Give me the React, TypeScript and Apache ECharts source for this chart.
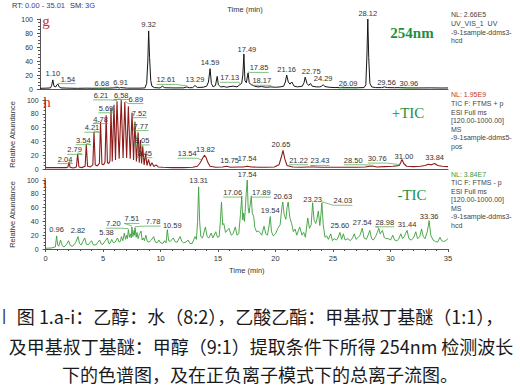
import { useEffect, useRef } from "react";
import * as echarts from "echarts";

// ---------- data (retention time in min, relative abundance in %) ----------
const traceG: [number, number][] = [
  [0, 1], [0.5, 1.2], [0.9, 1.5], [1.0, 5], [1.10, 13], [1.2, 4], [1.35, 3], [1.45, 6], [1.54, 7], [1.65, 3],
  [1.8, 1.5], [2.5, 1.2], [3.2, 1], [4, 1.2], [5, 1], [6, 1.3], [6.68, 2], [6.8, 1.4], [6.91, 2], [7.5, 1.2],
  [8.5, 1.2], [9.0, 1.5], [9.15, 8], [9.25, 40], [9.32, 83], [9.4, 45], [9.5, 12], [9.6, 4], [9.8, 2], [10.3, 1.5],
  [10.5, 4], [10.7, 1.8], [11.5, 1.5], [12.3, 1.6], [12.61, 3], [12.8, 1.8], [13.1, 2], [13.29, 5], [13.5, 2.2],
  [14.0, 2.5], [14.3, 4], [14.45, 10], [14.59, 29], [14.7, 8], [14.85, 3], [15.05, 5], [15.2, 18], [15.3, 6],
  [15.5, 3], [15.8, 3.5], [16.0, 2.5], [16.3, 3.5], [16.6, 4], [16.9, 3], [17.13, 6], [17.3, 8], [17.4, 20],
  [17.49, 50], [17.58, 12], [17.7, 9], [17.85, 23], [17.95, 9], [18.05, 7], [18.17, 6], [18.4, 4], [18.7, 3],
  [19.0, 3.5], [19.4, 2.5], [19.8, 3], [20.2, 2.5], [20.6, 3], [20.9, 4], [21.05, 10], [21.16, 20], [21.3, 10],
  [21.45, 7], [21.6, 10], [21.8, 4], [22.1, 3], [22.5, 4], [22.65, 9], [22.75, 17], [22.9, 8], [23.05, 5],
  [23.2, 8], [23.35, 4], [23.7, 3], [24.0, 3], [24.15, 4], [24.29, 6], [24.45, 3.5], [24.8, 2.5], [25.3, 2],
  [25.7, 2.2], [26.09, 2], [26.6, 2], [27.2, 1.8], [27.8, 2], [27.95, 6], [28.05, 50], [28.12, 100], [28.2, 45],
  [28.3, 8], [28.45, 3], [28.8, 2], [29.3, 2], [29.56, 3], [29.8, 2], [30.4, 1.8], [30.96, 2], [31.5, 1.6],
  [32.5, 1.5], [33.5, 1.6], [34.5, 1.4], [35, 1.5],
];

const traceH: [number, number][] = [
  [0, 2], [1, 2], [1.8, 2], [1.95, 3], [2.04, 10], [2.13, 2.5], [2.4, 1.5], [2.68, 3], [2.79, 22], [2.9, 3],
  [3.15, 2], [3.44, 4], [3.54, 36], [3.65, 4], [3.9, 3], [4.11, 6], [4.21, 54], [4.32, 6], [4.5, 4.5], [4.68, 8],
  [4.78, 68], [4.9, 7], [5.05, 6], [5.17, 10], [5.27, 78], [5.38, 9], [5.5, 8], [5.6, 12], [5.69, 88], [5.8, 11],
  [5.95, 93], [6.08, 13], [6.21, 98], [6.4, 15], [6.58, 100], [6.74, 16], [6.89, 97], [7.05, 16], [7.2, 91],
  [7.36, 15], [7.52, 81], [7.65, 13], [7.77, 68], [7.9, 11], [8.05, 53], [8.15, 9], [8.25, 42], [8.35, 8],
  [8.45, 33], [8.57, 6], [8.7, 22], [8.82, 5], [8.95, 14], [9.1, 4], [9.25, 9], [9.42, 3.5], [9.6, 6], [9.8, 3],
  [10.2, 2.5], [11, 2], [12, 2], [12.8, 2.5], [13.2, 4], [13.4, 8], [13.54, 12], [13.7, 17], [13.82, 20],
  [13.95, 17], [14.1, 10], [14.3, 4], [14.8, 2.5], [15.4, 3], [15.75, 4], [16.1, 2.5], [16.8, 3], [17.2, 3],
  [17.54, 4], [17.9, 3], [18.5, 2.5], [19.2, 2.5], [19.9, 3], [20.3, 6], [20.5, 17], [20.65, 27], [20.8, 15],
  [21.0, 5], [21.22, 4], [21.5, 3], [22.2, 2.5], [22.9, 3], [23.43, 3], [24, 2.5], [25, 2.5], [26, 2.5],
  [27, 2.5], [27.8, 3], [28.2, 4], [28.5, 4], [28.8, 3], [29.5, 3.5], [30.2, 4], [30.5, 4.5], [30.76, 5],
  [30.88, 9], [31.0, 14], [31.15, 8], [31.4, 4], [32, 3.5], [32.6, 4], [33.0, 5], [33.3, 7], [33.55, 6],
  [33.84, 8], [34.1, 5], [34.5, 4], [35, 3.5],
];

const traceI: [number, number][] = [
  [0, 1], [0.5, 1.5], [0.85, 3], [0.96, 19], [1.05, 6], [1.15, 4], [1.3, 13], [1.45, 5], [1.6, 3], [1.8, 6],
  [2.0, 12], [2.15, 5], [2.35, 4], [2.6, 9], [2.82, 18], [2.95, 8], [3.1, 6], [3.25, 11], [3.4, 16], [3.55, 7],
  [3.7, 6], [3.85, 9], [4.0, 12], [4.15, 6], [4.4, 6], [4.55, 10], [4.7, 13], [4.85, 7], [5.0, 7], [5.2, 12],
  [5.38, 16], [5.5, 8], [5.6, 8], [5.75, 14], [5.9, 9], [6.05, 10], [6.25, 16], [6.4, 10], [6.5, 11], [6.6, 18],
  [6.72, 12], [6.85, 23], [6.95, 14], [7.05, 20], [7.12, 15], [7.2, 28], [7.3, 17], [7.4, 22], [7.45, 16],
  [7.51, 32], [7.6, 18], [7.7, 27], [7.74, 20], [7.78, 31], [7.88, 17], [7.95, 24], [8.05, 15], [8.15, 21],
  [8.3, 26], [8.4, 13], [8.5, 16], [8.6, 12], [8.72, 20], [8.85, 11], [9.0, 10], [9.2, 13], [9.4, 18], [9.55, 10],
  [9.7, 9], [9.85, 13], [10.0, 9], [10.2, 8], [10.35, 12], [10.48, 9], [10.59, 28], [10.7, 12], [10.85, 11],
  [11.1, 16], [11.3, 10], [11.45, 10], [11.7, 18], [11.85, 11], [12.0, 9], [12.2, 10], [12.4, 13], [12.55, 8],
  [12.75, 8], [13.0, 18], [13.12, 14], [13.22, 40], [13.31, 90], [13.4, 40], [13.5, 18], [13.65, 16], [13.9, 32],
  [14.05, 18], [14.2, 16], [14.4, 23], [14.55, 16], [14.8, 25], [14.95, 17], [15.1, 18], [15.2, 40], [15.3, 68],
  [15.4, 35], [15.5, 37], [15.65, 24], [15.95, 30], [16.15, 20], [16.3, 22], [16.5, 32], [16.65, 20], [16.8, 22],
  [16.95, 50], [17.06, 76], [17.15, 42], [17.22, 52], [17.3, 40], [17.45, 80], [17.54, 100], [17.62, 60],
  [17.7, 52], [17.8, 65], [17.89, 76], [17.98, 52], [18.1, 47], [18.2, 31], [18.35, 25], [18.5, 26], [18.65, 24],
  [18.8, 20], [19.0, 33], [19.15, 22], [19.3, 20], [19.45, 35], [19.54, 47], [19.65, 25], [19.8, 19], [20.0, 22],
  [20.2, 30], [20.4, 35], [20.55, 60], [20.63, 68], [20.75, 50], [20.9, 43], [21.0, 60], [21.1, 68], [21.25, 45],
  [21.4, 37], [21.55, 25], [21.7, 29], [21.85, 20], [22.1, 32], [22.3, 20], [22.45, 24], [22.6, 17], [22.8, 45],
  [22.95, 30], [23.1, 35], [23.23, 67], [23.35, 42], [23.5, 37], [23.62, 45], [23.72, 55], [23.85, 34],
  [23.95, 50], [24.03, 67], [24.15, 35], [24.3, 17], [24.45, 19], [24.6, 14], [24.8, 22], [24.95, 12], [25.1, 15],
  [25.3, 13], [25.45, 17], [25.6, 24], [25.75, 14], [25.9, 22], [26.05, 13], [26.3, 15], [26.5, 12], [26.7, 16],
  [26.85, 22], [27.0, 14], [27.2, 17], [27.35, 20], [27.54, 30], [27.7, 16], [27.9, 14], [28.05, 20], [28.2, 27],
  [28.35, 15], [28.5, 13], [28.7, 18], [28.85, 24], [28.98, 30], [29.1, 22], [29.3, 27], [29.45, 17], [29.6, 15],
  [29.8, 15], [30.0, 13], [30.2, 20], [30.35, 13], [30.55, 12], [30.7, 14], [30.9, 22], [31.05, 15], [31.2, 18],
  [31.3, 22], [31.44, 27], [31.6, 15], [31.8, 13], [32.0, 16], [32.2, 25], [32.35, 15], [32.55, 18], [32.7, 29],
  [32.85, 18], [33.0, 15], [33.2, 25], [33.36, 41], [33.5, 20], [33.7, 13], [33.9, 11], [34.1, 10], [34.3, 17],
  [34.45, 12], [34.6, 11], [34.8, 12], [35, 15],
];

// labelled peaks: [retention time, apex height]
const peaksG: [number, number][] = [
  [1.10, 13], [1.54, 7], [6.68, 2], [6.91, 2], [9.32, 83], [12.61, 3], [13.29, 5], [14.59, 29], [17.13, 6],
  [17.49, 50], [17.85, 23], [18.17, 6], [21.16, 20], [22.75, 17], [24.29, 6], [26.09, 2], [28.12, 100],
  [29.56, 3], [30.96, 2],
];
const peaksH: [number, number][] = [
  [2.04, 10], [2.79, 22], [3.54, 36], [4.21, 54], [4.78, 68], [5.69, 88], [6.21, 98], [6.58, 100], [6.89, 97],
  [7.52, 81], [7.77, 68], [8.05, 53], [8.45, 33], [13.54, 12], [13.82, 20], [15.75, 4], [17.54, 4], [20.65, 27],
  [21.22, 4], [23.43, 3], [28.50, 4], [30.76, 5], [31.00, 14], [33.84, 8],
];
const peaksI: [number, number][] = [
  [0.96, 19], [2.82, 18], [5.38, 16], [7.20, 28], [7.51, 32], [7.78, 31], [10.59, 28], [13.31, 90], [17.06, 76],
  [17.54, 100], [17.89, 76], [19.54, 47], [20.63, 68], [23.23, 67], [24.03, 67], [25.60, 24], [27.54, 30],
  [28.98, 30], [31.44, 27], [33.36, 41],
];

// ---------- layout (label offsets in px: dx, dy, leader line 0/1) ----------
const layoutG: [number, number, number][] = [
  [0, 0, 0], [10, 1, 1], [-16, 2, 1], [0, 1, 0], [0, 0, 0], [-21, -1, 1], [0, 0, 0], [0, 0, 0], [-10, -1, 1],
  [3, 1, 0], [11, 1, 1], [10, 2, 1], [0, 0, 0], [6, 0, 0], [0, 0, 0], [4, 2, 1], [0, 0, 0], [2, 2, 0], [8, 2, 1],
];
const layoutH: [number, number, number][] = [
  [-4, 3, 1], [-3, 2, 1], [-3, 2, 1], [-2, 2, 1], [0, 3, 1], [-5, 6, 1], [-16, 0, 1], [0, 1, 1], [11, 3, 1],
  [7, 6, 1], [6, 10, 1], [4, 14, 1], [2, 13, 1], [-14, -1, 1], [1, 0, 0], [3, 0, 0], [0, -2, 0], [-2, 0, 0],
  [9, 0, 1], [5, 0, 1], [-20, 0, 1], [-22, -1, 1], [2, 3, 0], [0, 0, 0],
];
const layoutI: [number, number, number][] = [
  [0, 0, 0], [0, 0, 0], [-1, 1, 0], [-15, 0, 1], [0, -2, 1], [18, 0, 1], [5, 2, 0], [0, 0, 0], [-9, 2, 1],
  [0, 0, 0], [10, 2, 1], [0, 0, 0], [0, 0, 0], [0, 3, 0], [21, 4, 1], [0, -1, 0], [0, 0, 0], [6, 0, 1],
  [0, 0, 0], [0, 2, 0],
];

const captionLines = [
  "图 1.a-i：乙醇：水（8:2），乙酸乙酯：甲基叔丁基醚（1:1），",
  "及甲基叔丁基醚：甲醇（9:1）提取条件下所得 254nm 检测波长",
  "下的色谱图，及在正负离子模式下的总离子流图。",
];

const SANS = "'Liberation Sans', Arial, sans-serif";
const SERIF = "'Liberation Serif', 'Times New Roman', serif";
const CJK = "'Noto Sans CJK SC', sans-serif";
const LEAD = "#4aa64a";

function peakLabels(idx: number, peaks: [number, number][], layout: [number, number, number][]) {
  return {
    type: "custom",
    xAxisIndex: idx,
    yAxisIndex: idx,
    silent: true,
    z: 5,
    data: peaks,
    renderItem: (params: any, api: any) => {
      const t = api.value(0);
      const v = api.value(1);
      const p = api.coord([t, v]);
      const lay = layout[params.dataIndex] || [0, 0, 0];
      const text = Number(t).toFixed(2);
      const cx = p[0] + lay[0];
      const bottom = p[1] - 2 + lay[1];
      const halfW = text.length * 1.9;
      const children: any[] = [];
      if (lay[2]) {
        const edge = lay[0] < 0 ? cx + halfW : cx - halfW;
        const far = lay[0] < 0 ? cx - halfW : cx + halfW;
        children.push({
          type: "polyline",
          shape: { points: [[p[0], p[1] - 1], [edge, bottom + 0.5], [far, bottom + 0.5]] },
          style: { stroke: LEAD, lineWidth: 0.7, fill: "none" },
        });
      }
      children.push({
        type: "text",
        style: {
          text,
          x: cx,
          y: bottom,
          align: "center",
          verticalAlign: "bottom",
          fontSize: 7.5,
          fontFamily: SANS,
          fill: "#333",
        },
      });
      return { type: "group", children };
    },
  };
}

function txt(text: string, x: number, y: number, o: any = {}) {
  return {
    type: "text",
    x,
    y,
    silent: true,
    style: {
      text,
      fontSize: o.fontSize ?? 7,
      fontFamily: o.fontFamily ?? SANS,
      fontWeight: o.fontWeight ?? "normal",
      fill: o.fill ?? "#444",
      align: o.align ?? "left",
      verticalAlign: "middle",
    },
  };
}

export default function App() {
  const ref = useRef<HTMLDivElement>(null);

  useEffect(() => {
    document.body.style.margin = "0";
    if (!ref.current) return;
    const chart = echarts.init(ref.current, undefined, { renderer: "svg" });

    const grids = [
      { left: 40, top: 19, width: 408, height: 70 },
      { left: 40, top: 100, width: 408, height: 69 },
      { left: 40, top: 180, width: 408, height: 69 },
    ];

    const xAxes = grids.map((_, i) => ({
      type: "value",
      gridIndex: i,
      min: 0,
      max: 35,
      interval: 5,
      axisLine: { show: true, onZero: false, lineStyle: { color: "#555", width: 1 } },
      axisTick: { show: i === 2, length: 3, lineStyle: { color: "#555" } },
      minorTick: { show: i === 2, splitNumber: 5, length: 2, lineStyle: { color: "#555" } },
      axisLabel: { show: i === 2, fontSize: 7.5, fontFamily: SANS, color: "#333", margin: 5 },
      splitLine: { show: false },
      name: i === 2 ? "Time (min)" : "",
      nameLocation: "middle",
      nameGap: 17,
      nameTextStyle: { fontSize: 7.5, fontFamily: SANS, color: "#333" },
    }));

    const yAxes = grids.map((_, i) => ({
      type: "value",
      gridIndex: i,
      min: 0,
      max: 100,
      interval: 20,
      axisLine: { show: true, lineStyle: { color: "#555", width: 1 } },
      axisTick: { show: true, length: 3, lineStyle: { color: "#555" } },
      minorTick: { show: true, splitNumber: 4, length: 2, lineStyle: { color: "#555" } },
      axisLabel: { fontSize: 7, fontFamily: SANS, color: "#333", margin: 7 },
      splitLine: { show: false },
      name: i === 0 ? "" : "Relative Abundance",
      nameLocation: "middle",
      nameRotate: 90,
      nameGap: 21,
      nameTextStyle: { fontSize: 7.5, fontFamily: SANS, color: "#333" },
    }));

    const line = (idx: number, data: [number, number][], color: string, width: number) => ({
      type: "line",
      xAxisIndex: idx,
      yAxisIndex: idx,
      data,
      symbol: "none",
      silent: true,
      lineStyle: { color, width },
      z: 3,
    });

    const capStyle = { fontSize: 18, fontFamily: CJK, fill: "#1a1a1a", align: "center" };

    const graphic: any[] = [
      txt("RT:", 12, 5, { fill: "#333", fontSize: 7.5 }),
      txt("0.00 - 35.01", 25, 5, { fill: "#3b3b9b", fontSize: 7.5 }),
      txt("SM:", 70, 5, { fill: "#333", fontSize: 7.5 }),
      txt("3G", 85, 5, { fill: "#3b3b9b", fontSize: 7.5 }),
      txt("Time (min)", 245, 9, { fill: "#333", fontSize: 7.5, align: "center" }),
      // panel g annotations
      txt("NL: 2.66E5", 451, 14),
      txt("UV_VIS_1  UV", 451, 23),
      txt("-9-1sample-ddms3-", 451, 32),
      txt("hcd", 451, 40),
      // panel h annotations
      txt("NL: 1.95E9", 451, 94, { fill: "#c0392b" }),
      txt("TIC F: FTMS + p", 451, 103),
      txt("ESI Full ms", 451, 112),
      txt("[120.00-1000.00]", 451, 120.5),
      txt("MS", 451, 129),
      txt("-9-1sample-ddms5-", 451, 137.5),
      txt("pos", 451, 146.5),
      // panel i annotations
      txt("NL: 3.84E7", 451, 174, { fill: "#3a9a3a" }),
      txt("TIC F: FTMS - p", 451, 182.5),
      txt("ESI Full ms", 451, 191),
      txt("[120.00-1000.00]", 451, 199.5),
      txt("MS", 451, 208),
      txt("-9-1sample-ddms3-", 451, 216.5),
      txt("hcd", 451, 225),
      // titles
      txt("254nm", 412, 33, { fontSize: 15, fontFamily: SERIF, fontWeight: "bold", fill: "#1f8f3f", align: "center" }),
      txt("+TIC", 408, 113, { fontSize: 15, fontFamily: SERIF, fill: "#1f8f3f", align: "center" }),
      txt("-TIC", 412, 195, { fontSize: 15, fontFamily: SERIF, fill: "#1f8f3f", align: "center" }),
      txt("g", 46, 21, { fontSize: 15, fontFamily: SERIF, fill: "#d42a2a", align: "center" }),
      txt("h", 47, 102, { fontSize: 15, fontFamily: SERIF, fill: "#d42a2a", align: "center" }),
      txt("i", 45, 183, { fontSize: 15, fontFamily: SERIF, fill: "#d42a2a", align: "center" }),
      // caption
      txt("|", 4, 315, { fontSize: 16, fontFamily: SANS, fill: "#333", align: "center" }),
      txt(captionLines[0], 260, 316, capStyle),
      txt(captionLines[1], 261, 346, capStyle),
      txt(captionLines[2], 260, 374, capStyle),
    ];

    chart.setOption({
      animation: false,
      backgroundColor: "#fff",
      grid: grids,
      xAxis: xAxes,
      yAxis: yAxes,
      series: [
        line(0, traceG, "#151515", 1),
        line(1, traceH, "#8e1b1b", 1.1),
        line(2, traceI, "#3a9e3a", 0.9),
        peakLabels(0, peaksG, layoutG),
        peakLabels(1, peaksH, layoutH),
        peakLabels(2, peaksI, layoutI),
      ],
      graphic,
    } as any);

    return () => chart.dispose();
  }, []);

  return <div ref={ref} style={{ width: 520, height: 387 }} />;
}
